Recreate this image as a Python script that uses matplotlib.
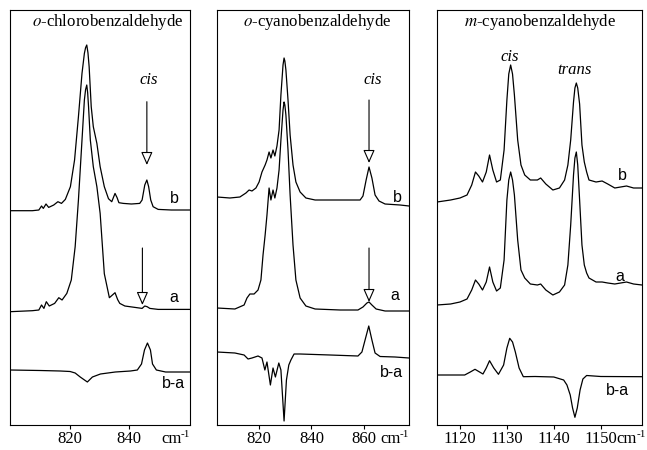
import matplotlib.pyplot as plt

plt.rcParams['font.family'] = ['Liberation Serif', 'DejaVu Serif']
plt.rcParams['mathtext.fontset'] = 'stix'

# ---- o-chlorobenzaldehyde (intensities in a.u., relative to each trace's own baseline) ----
CL_WN_B = [800.0, 807.5, 809.7, 810.6, 811.2, 812.1, 813.0, 814.7, 816.1, 817.3, 818.6, 820.3,
           821.7, 823.0, 824.2, 825.0, 825.4, 825.8, 826.2, 826.6, 827.3, 828.0, 829.2, 830.3,
           831.7, 833.1, 834.2, 835.3, 836.0, 836.6, 838.1, 840.8, 843.6, 844.4, 845.3, 846.0,
           846.6, 847.3, 848.1, 849.8, 854.2, 860.5]
CL_B = [0, 0, 0.7, 4.7, 2.3, 6.7, 3.3, 5.7, 9, 7.3, 11.3, 24,
        50.7, 94, 137.3, 157.3, 163, 165.7, 158, 144, 104, 84, 67.3, 44,
        24, 12, 9, 17.3, 13, 8, 7.3, 6.7, 7.3, 10.7, 25.7, 30.7,
        24, 10.7, 4, 1.3, 0.7, 0.7]
CL_WN_A = [800.0, 807.5, 809.7, 810.6, 811.4, 812.2, 813.2, 815.0, 816.4, 817.5, 819.1, 820.6,
           821.9, 823.0, 824.2, 825.0, 825.4, 825.8, 826.1, 826.4, 827.0, 828.0, 829.2, 830.3,
           831.7, 833.4, 835.3, 836.2, 836.9, 838.6, 842.0, 844.4, 845.3, 846.1, 847.0, 849.8,
           860.5]
CL_A = [0, 1, 1.7, 6.7, 3.3, 10, 5.7, 8.3, 14, 11.7, 18.3, 31.7,
        65, 111.7, 171.7, 211.7, 222, 226.7, 219, 205, 171.7, 145, 125, 98.3,
        38, 14, 19, 12, 8.3, 5.7, 4.3, 3.3, 5.7, 5, 3.3, 2.3,
        2.3]
CL_WN_D = [800.0, 810.1, 816.9, 820.2, 821.9, 823.6, 826.0, 827.7, 830.4, 835.4, 840.5, 842.8,
           844.2, 845.2, 846.2, 847.2, 847.9, 849.2, 852.3, 860.5]
CL_D = [0, -0.5, -1, -1.5, -3, -7, -12, -7, -4, -2, -1, 0,
        6, 20, 27, 20, 6, 0, -2, -2]

# ---- o-cyanobenzaldehyde ----
OCN_WN_B = [804.1, 809.0, 812.8, 815.1, 816.3, 817.4, 818.9, 820.1, 821.2, 822.4, 823.1, 823.9,
            824.6, 825.4, 826.1, 826.9, 827.7, 828.4, 829.2, 829.6, 829.9, 830.3, 831.1, 831.9,
            833.0, 834.1, 835.7, 837.9, 841.4, 850.9, 858.5, 859.6, 860.8, 861.9, 863.0, 864.2,
            865.7, 868.0, 873.7, 877.1]
OCN_B = [0, -1, 0, 4, 7, 6, 9, 15, 25, 32, 37, 45,
         39, 47, 41, 51, 67, 102, 132, 139, 136, 127, 97, 62,
         32, 15, 5, -1, -3, -3, -3, 1, 17, 30, 19, 2,
         -4, -7, -8, -9]
OCN_WN_A = [804.1, 810.9, 814.4, 815.5, 816.6, 818.2, 819.7, 820.8, 821.6, 822.4, 823.1, 823.9,
            824.6, 825.4, 826.1, 826.9, 827.7, 828.4, 829.2, 829.6, 829.9, 830.3, 831.1, 831.9,
            833.0, 834.1, 835.7, 837.9, 841.4, 850.9, 857.7, 859.6, 861.1, 861.9, 863.0, 864.6,
            868.0, 877.1]
OCN_A = [0, -1, 3, 10, 14, 14, 18, 28, 53, 73, 93, 120,
         108, 118, 110, 120, 138, 168, 198, 206, 203, 193, 158, 113,
         63, 28, 10, 2, -1, -2, -2, 1, 5, 6, 3, -1,
         -3, -3]
OCN_WN_D = [804.1, 810.9, 814.4, 815.9, 817.4, 819.7, 821.2, 822.3, 823.1, 824.4, 825.4, 826.3,
            827.6, 828.4, 829.6, 830.5, 831.4, 832.2, 833.4, 835.7, 847.1, 857.7, 859.2, 860.4,
            861.8, 863.0, 864.2, 866.1, 871.8, 877.1]
OCN_D = [0, -1, -3, -7, -6, -4, -6, -18, -10, -33, -16, -25,
         -11, -18, -69, -28, -13, -8, -2, -2, -3, -4, 0, 12,
         26, 12, -1, -4.5, -5, -6]

# ---- m-cyanobenzaldehyde ----
MCN_WN = [1115.1, 1118.0, 1120.0, 1121.5, 1122.5, 1123.3, 1124.0, 1124.8, 1125.6, 1126.3,
          1127.0, 1127.8, 1128.6, 1129.4, 1130.0, 1130.4, 1130.8, 1131.2, 1131.6, 1132.3,
          1133.0, 1133.8, 1135.0, 1136.5, 1137.2, 1138.3, 1139.8, 1141.2, 1142.3, 1143.0,
          1143.6, 1144.2, 1144.5, 1144.8, 1145.1, 1145.5, 1146.0, 1146.5, 1147.0, 1147.5,
          1149.0, 1150.3, 1151.5, 1153.0, 1155.5, 1157.0, 1158.8]
MCN_B = [0, 2, 4, 7, 17, 30, 26, 20, 30, 47,
         32, 20, 22, 52, 102, 128, 137, 128, 107, 62,
         37, 27, 22, 22, 24, 18, 12, 14, 22, 37,
         62, 100, 114, 119, 114, 98, 57, 40, 30, 22,
         20, 21, 18, 14, 16, 14, 14]
MCN_A = [0, 1, 3, 6, 15, 25, 21, 15, 23, 38,
         23, 14, 17, 45, 105, 125, 133, 125, 110, 65,
         35, 27, 21, 20, 21, 15, 10, 13, 20, 40,
         80, 130, 147, 153, 140, 105, 60, 40, 32, 27,
         23, 23, 22, 21, 23, 21, 20]
MCN_WN_D = [1115.1, 1121.0, 1122.2, 1123.2, 1124.9, 1125.6, 1126.3, 1127.2, 1128.2, 1129.3, 1130.0,
            1130.6, 1131.2, 1131.8, 1132.6, 1133.5, 1136.0, 1140.0, 1142.1, 1142.8, 1143.5, 1144.0,
            1144.5, 1145.0, 1145.6, 1146.2, 1147.0, 1150.0, 1158.8]
MCN_D = [0, 0, 3, 5.7, 1, 7, 14.3, 7, 0.7, 10, 27,
         36.7, 33, 23, 7, -1.7, -1.5, -2, -5, -10, -20, -33,
         -42.3, -33, -15, -4, -0.5, -1.5, -1.7]

CL_CIS = 846.0
OCN_CIS = 861.9
MCN_CIS = 1130.7
MCN_TRANS = 1144.5

W, H = 647, 450
fig = plt.figure(figsize=(W / 100, H / 100), dpi=100)

YTOP = 414.5  # axis height in "pixel" units
TICK_LEN, TICK_PAD = 3.0, 2.0


def make_axes(left, right, xlim, ticks):
    ax = fig.add_axes([left / W, 25.5 / H, (right - left) / W, YTOP / H])
    ax.set_xlim(*xlim)
    ax.set_ylim(0, YTOP)
    ax.set_xticks(ticks)
    ax.set_yticks([])
    ax.tick_params(axis='x', direction='out', length=TICK_LEN, width=0.8,
                   pad=TICK_PAD, labelsize=12)
    for sp in ax.spines.values():
        sp.set_linewidth(0.8)
    return ax


def trace(ax, wn, vals, offset):
    ax.plot(wn, [offset + v for v in vals], color='black', lw=0.9)


def tag(ax, x, y, s):
    ax.text(x, y, s, family=['Liberation Sans', 'DejaVu Sans'], fontsize=11.5,
            ha='center', va='center')


def title(ax, xf, name_it, rest):
    ax.text(xf, 0.971, '$\\mathit{' + name_it + '}$' + rest, transform=ax.transAxes,
            ha='center', va='center', fontsize=12.2)


def unit(ax, dx=0):
    # "cm" with a small raised "-1", aligned with the tick labels
    y = -(TICK_LEN + TICK_PAD)
    ax.annotate('-1', xy=(1, 0), xycoords='axes fraction', xytext=(dx, y + 1),
                textcoords='offset points', ha='right', va='top', fontsize=8)
    ax.annotate('cm', xy=(1, 0), xycoords='axes fraction', xytext=(dx - 6, y),
                textcoords='offset points', ha='right', va='top', fontsize=12)


def down_arrow(ax, x, y0, y1):
    ax.annotate('', xy=(x, y1), xytext=(x, y0),
                arrowprops=dict(arrowstyle='-|>,head_length=0.5,head_width=0.22',
                                mutation_scale=16, fc='white', ec='black', lw=0.8,
                                shrinkA=0, shrinkB=0))


# panel 1
ax1 = make_axes(10, 190, (800.0, 860.5), [820, 840])
trace(ax1, CL_WN_B, CL_B, 213.8)
trace(ax1, CL_WN_A, CL_A, 112.8)
trace(ax1, CL_WN_D, CL_D, 54.5)
title(ax1, 0.542, 'o', '-chlorobenzaldehyde')
tag(ax1, 855.1, 226.5, 'b')
tag(ax1, 855.1, 127.5, 'a')
tag(ax1, 855.0, 41.5, 'b-a')
ax1.text(CL_CIS + 0.6, 344.5, 'cis', style='italic', fontsize=12, ha='center', va='center')
down_arrow(ax1, CL_CIS, 322.8, 259.5)
down_arrow(ax1, CL_CIS - 1.5, 176.5, 119.5)
unit(ax1)

# panel 2
ax2 = make_axes(217, 409, (804.1, 877.1), [820, 840, 860])
trace(ax2, OCN_WN_B, OCN_B, 227.5)
trace(ax2, OCN_WN_A, OCN_A, 116.5)
trace(ax2, OCN_WN_D, OCN_D, 72.5)
title(ax2, 0.52, 'o', '-cyanobenzaldehyde')
tag(ax2, 872.5, 227.5, 'b')
tag(ax2, 871.8, 129.5, 'a')
tag(ax2, 870.4, 51.8, 'b-a')
ax2.text(OCN_CIS + 1.5, 344.5, 'cis', style='italic', fontsize=12, ha='center', va='center')
down_arrow(ax2, OCN_CIS, 324.5, 261.5)
down_arrow(ax2, OCN_CIS, 176.5, 122.5)
unit(ax2)

# panel 3
ax3 = make_axes(437, 642, (1115.1, 1158.8), [1120, 1130, 1140, 1150])
trace(ax3, MCN_WN, MCN_B, 222.5)
trace(ax3, MCN_WN, MCN_A, 119.5)
trace(ax3, MCN_WN_D, MCN_D, 49.5)
title(ax3, 0.505, 'm', '-cyanobenzaldehyde')
tag(ax3, 1154.6, 249.5, 'b')
tag(ax3, 1154.1, 147.8, 'a')
tag(ax3, 1153.6, 33.8, 'b-a')
ax3.text(MCN_CIS, 367.8, 'cis', style='italic', fontsize=12, ha='center', va='center')
ax3.text(MCN_TRANS, 354.5, 'trans', style='italic', fontsize=12, ha='center', va='center')
unit(ax3, dx=2.5)

fig.savefig('out.png', dpi=100)
